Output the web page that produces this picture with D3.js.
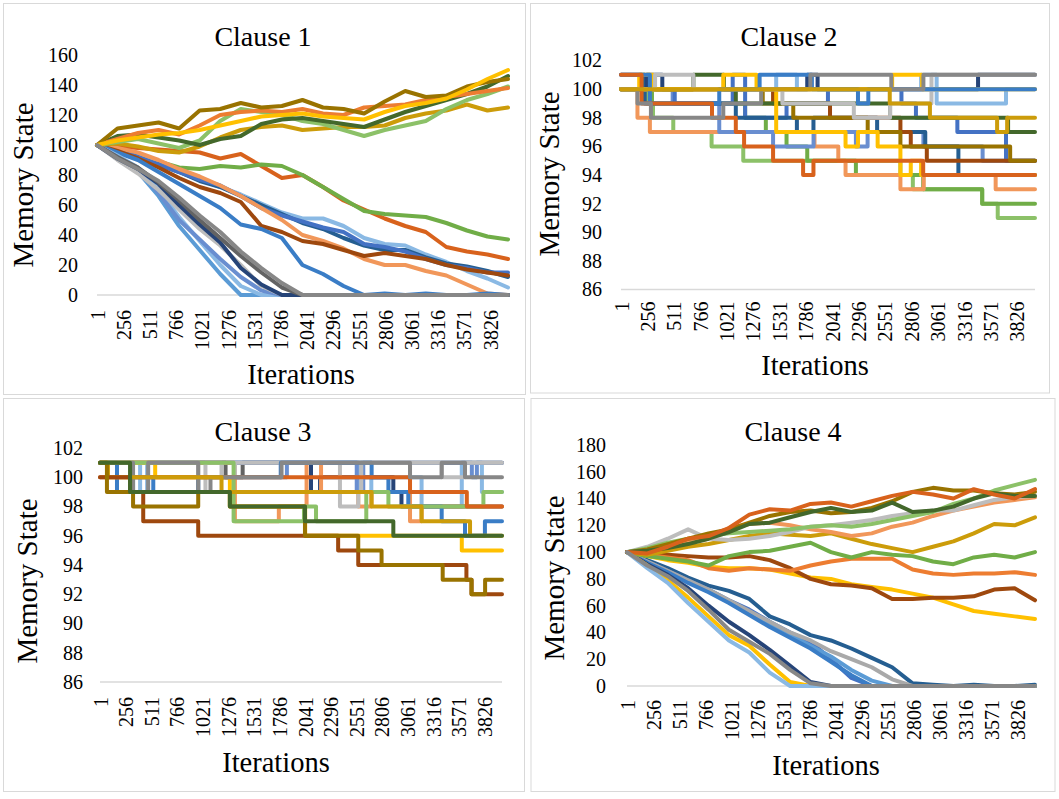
<!DOCTYPE html>
<html><head><meta charset="utf-8">
<script src="https://cdn.jsdelivr.net/npm/d3@7"></script>
<style>
html,body{margin:0;padding:0;background:#fff;}
svg text{font-family:"Liberation Serif","Times New Roman",serif;}
</style></head><body>
<svg id="chart" width="1059" height="799"></svg>
<script>
// ---------------- DATA ----------------
const tickIters  = [1,256,511,766,1021,1276,1531,1786,2041,2296,2551,2806,3061,3316,3571,3826];
const tickLabels = ["1","256","511","766","1021","1276","1531","1786","2041","2296","2551","2806","3061","3316","3571","3826"];
const iterSamples = [1,200,400,600,800,1000,1200,1400,1600,1800,2000,2200,2400,2600,2800,3000,3200,3400,3600,3800,4000];
const lastIter = 4000;
const panelTitles = ["Clause 1","Clause 2","Clause 3","Clause 4"];
const yTitle = "Memory State";
const xTitle = "Iterations";
const ticksWalk1 = [0,20,40,60,80,100,120,140,160];
const ticksStep  = [86,88,90,92,94,96,98,100,102];
const ticksWalk4 = [0,20,40,60,80,100,120,140,160,180];

// Clause 1 (values at iterSamples)
const c1_orangeRed   = [100,99,98,97,96,95,91,94,86,78,80,72,63,57,51,46,42,32,29,27,24];
const c1_green       = [100,96,93,89,85,84,86,85,87,86,80,72,64,56,54,53,52,48,43,39,37];
const c1_lightSky    = [100,97,93,89,83,77,72,67,61,55,51,51,46,38,34,33,27,22,16,11,5];
const c1_steelBlue   = [100,96,91,87,82,76,72,66,60,54,48,44,38,33,30,30,25,21,19,16,12];
const c1_royalBlue   = [100,97,92,87,82,77,73,66,58,53,49,45,42,34,32,29,24,20,18,15,15];
const c1_lightOrange = [100,98,95,90,84,79,73,66,58,50,40,36,31,24,20,20,16,13,7,1,0];
const c1_brown       = [100,96,91,85,78,72,68,62,46,42,36,34,30,26,28,26,24,20,17,15,13];
const c1_midBlue     = [100,95,90,82,74,66,58,47,44,38,20,14,6,0,1,0,1,0,0,1,0];
const c1_fastSky     = [100,92,82,66,46,30,14,0,0,0,0,0,0,0,0,0,0,0,0,0,0];
const c1_fastSky2    = [100,93,85,70,52,36,20,6,0,0,0,0,0,0,0,0,0,0,0,0,0];
const c1_fastCorn    = [100,92,83,68,50,37,24,12,3,0,0,0,0,0,0,0,0,0,0,0,0];
const c1_fastPale    = [100,90,81,70,57,44,33,20,6,0,0,0,0,0,0,0,0,0,0,0,0];
const c1_fastNavy    = [100,91,84,74,60,47,35,18,7,0,0,0,0,0,0,0,0,0,0,0,0];
const c1_fastDark    = [100,92,85,75,63,50,38,26,15,5,0,0,0,0,0,0,0,0,0,0,0];
const c1_gold        = [100,101,99,96,95,99,105,110,112,113,110,111,112,112,113,118,121,123,127,123,125];
const c1_lightGreen  = [100,102,104,101,98,103,116,124,122,120,116,114,110,106,110,113,116,124,130,134,139];
const c1_darkGreen   = [100,106,107,105,103,100,104,106,114,117,118,116,114,112,117,122,126,130,134,139,146];
const c1_orange      = [100,104,108,110,107,113,120,122,123,122,124,121,120,125,126,127,130,132,134,136,138];
const c1_darkGold    = [100,111,113,115,111,123,124,128,125,126,130,125,124,121,129,136,132,133,139,142,144];
const c1_yellow      = [100,103,105,107,108,110,113,116,119,120,121,119,118,117,122,126,128,131,137,144,150];
const c1_baseGray    = [100,91,84,76,65,53,42,29,18,8,0,0,0,0,0,0,0,0,0,0,0];

// Clause 4 (values at iterSamples)
const c4_steelBlue   = [100,94,88,81,75,71,65,52,46,38,34,28,21,14,2,1,0,1,0,0,1];
const c4_royalBlue   = [100,93,86,79,72,64,57,48,40,33,20,6,0,0,0,0,0,0,0,0,0];
const c4_skyBlue     = [100,92,85,78,71,63,55,46,38,30,22,12,4,0,0,0,0,0,0,0,0];
const c4_grayMid     = [100,93,86,79,72,64,56,48,40,34,26,20,14,5,0,0,0,0,0,0,0];
const c4_midBlue     = [100,92,85,77,70,62,53,44,36,28,18,8,0,0,0,0,0,0,0,0,0];
const c4_navy        = [100,91,83,73,60,48,38,27,15,3,0,0,0,0,0,0,0,0,0,0,0];
const c4_yellow2     = [100,90,79,66,52,38,30,16,3,0,0,0,0,0,0,0,0,0,0,0,0];
const c4_sky2        = [100,88,77,62,48,34,25,10,0,0,0,0,0,0,0,0,0,0,0,0,0];
const c4_baseGray    = [100,90,82,71,57,42,33,24,12,2,0,0,0,0,0,0,0,0,0,0,0];
const c4_yellow      = [100,97,94,92,89,88,88,87,84,81,80,76,74,72,69,66,61,56,54,52,50];
const c4_brown       = [100,99,98,97,96,96,97,94,88,80,76,75,73,65,65,66,66,67,72,73,64];
const c4_orange      = [100,98,96,94,88,86,88,87,86,90,93,95,95,95,87,84,83,84,84,85,83];
const c4_green       = [100,97,95,93,90,97,100,101,104,107,100,96,100,98,97,93,91,96,98,96,100];
const c4_gold        = [100,98,101,104,106,109,112,114,113,112,114,110,106,103,100,104,108,114,121,120,126];
const c4_lightOrange = [100,102,104,107,110,118,121,122,120,117,115,112,114,119,122,127,131,134,137,139,141];
const c4_lightGray   = [100,104,110,117,110,109,110,112,115,119,120,122,124,127,129,131,131,135,139,141,142];
const c4_lightGreen  = [100,103,107,110,112,114,115,116,117,119,120,119,121,124,127,130,136,140,146,150,154];
const c4_darkGold    = [100,102,106,110,114,117,122,127,130,131,129,130,133,138,145,148,146,146,144,143,145];
const c4_darkGreen   = [100,101,103,106,110,115,121,122,126,130,133,130,131,137,130,131,134,140,144,142,142];
const c4_orangeRed   = [100,99,104,110,112,118,128,132,131,136,137,134,138,142,145,143,140,147,143,140,147];

// Clause 2 (step changes: [iteration, state])
const c2_lightGreen  = [[1,100],[250,99],[310,98],[506,97],[876,96],[1182,95],[2700,94],[2820,93],[3490,92],[3640,91]];
const c2_green       = [[1,100],[300,99],[1200,98],[1400,97],[1600,96],[1800,95],[2270,94],[2920,93],[3490,92]];
const c2_lightOrange = [[1,100],[160,98],[280,97],[1870,96],[2100,95],[2170,94],[2700,93],[2925,94],[3620,93]];
const c2_cornflower  = [[1,100],[500,99],[950,97],[1470,96],[1861,97],[2270,96],[2383,97],[2922,96],[3494,95]];
const c2_royalBlue   = [[1,100],[520,99],[1080,101],[1200,98],[1600,99],[2000,100],[2710,99],[2850,98],[3250,97],[3720,95]];
const c2_steelBlue   = [[1,101],[230,99],[1110,98],[1700,97],[1860,98],[2475,97],[2940,96],[3260,94]];
const c2_navy        = [[1,100],[250,101],[400,100],[1800,101],[1900,100],[3450,101]];
const c2_lightSky    = [[1,100],[1500,101],[1700,100],[2900,101],[3050,99],[3720,100]];
const c2_brown       = [[1,100],[1470,99],[2020,98],[2700,97],[2800,96],[2955,95]];
const c2_darkGold    = [[1,100],[1370,99],[1665,98],[2384,97],[2700,96],[3760,95]];
const c2_darkGreen   = [[1,100],[700,101],[995,100],[1110,99],[2600,98],[3740,97]];
const c2_lightYellow = [[1,100],[1500,97],[2170,96],[2290,97],[2480,96],[2700,94],[2800,95],[2900,94]];
const c2_yellow      = [[1,100],[177,101],[312,100],[989,101],[1310,100],[2620,101],[2910,100]];
const c2_lightGray   = [[1,100],[330,101],[700,100],[1560,99],[2250,98],[2600,99],[3000,101]];
const c2_midBlue     = [[1,101],[280,99],[950,100],[1340,101],[1845,100],[2290,99],[2390,100]];
const c2_orangeRed   = [[1,101],[200,99],[880,98],[1110,97],[1190,96],[1470,95],[1760,94],[1860,95],[2920,94]];
const c2_gray        = [[1,100],[160,99],[290,98],[989,99],[1355,100],[1830,101],[2612,100],[2922,101]];
const c2_gold        = [[1,100],[2597,99],[2985,98],[3634,97],[3731,98]];

// Clause 3 (step changes: [iteration, state])
const c3_lightSky    = [[1,101],[400,99],[470,101],[2570,99],[2700,100],[3200,98],[3600,101],[3800,99]];
const c3_navy        = [[1,101],[2100,99],[2190,100],[2919,99],[3000,98]];
const c3_darkGray    = [[1,101],[1250,100],[1420,101]];
const c3_royalBlue   = [[1,101],[1800,100],[1860,101],[2555,99],[2620,101],[3700,100],[3750,101]];
const c3_lightOrange = [[1,101],[1343,97],[1780,98],[2056,101],[2200,99],[2570,98],[2700,99],[3085,97],[3200,98]];
const c3_lightGray   = [[1,101],[978,99],[1050,101],[1210,100],[1343,101],[2388,98],[2570,99],[2600,101],[3400,100],[3632,101]];
const c3_midBlue     = [[1,101],[170,99],[330,100],[531,99],[978,100],[1800,101],[2703,100],[2870,99],[3068,98],[3400,97],[3632,96],[3830,97]];
const c3_yellow      = [[1,101],[550,100],[1293,98],[2042,96],[3600,95]];
const c3_lightGreen  = [[1,101],[1330,97],[2030,98],[2150,97],[2650,99],[2870,98],[3815,99]];
const c3_orangeRed   = [[1,100],[3085,99],[3650,98]];
const c3_gray        = [[1,101],[330,99],[480,101],[978,99],[1100,100],[1807,101],[3085,100],[3400,101],[3632,100]];
const c3_gold        = [[1,101],[80,100],[1210,99],[2703,98],[3200,97],[3682,96]];
const c3_brown       = [[1,100],[300,99],[431,97],[978,96],[2370,95],[2570,94],[3646,93],[3697,92]];
const c3_darkGold    = [[1,101],[70,99],[330,98],[978,99],[1293,98],[2040,96],[2570,95],[2802,94],[3410,93],[3697,92],[3832,93]];
const c3_darkGreen   = [[1,101],[300,99],[1293,98],[2040,97],[2919,96]];

// ---------------- STYLE ----------------
const COL = {
  royalBlue:"#4472C4", orange:"#ED7D31", lightGray:"#A9A9A9", yellow:"#FFC000", skyBlue:"#5B9BD5", green:"#70AD47",
  navy:"#264478", brown:"#9E480E", darkGray:"#636363", darkGold:"#997300", steelBlue:"#255E91", darkGreen:"#43682B",
  cornflower:"#698ED0", lightOrange:"#F1975A", paleGray:"#BDBDBD", lightYellow:"#FFCD33", lightSky:"#8AB9E4", lightGreen:"#8CC168",
  midBlue:"#3A7DC6", orangeRed:"#D8621C", gray:"#878787", gold:"#CC9C0A"
};
const FONT = '"Liberation Serif","Times New Roman",serif';

const panel1Series = [
  [c1_orangeRed,COL.orangeRed],[c1_green,COL.green],[c1_lightSky,COL.lightSky],[c1_steelBlue,COL.steelBlue],
  [c1_royalBlue,COL.royalBlue],[c1_lightOrange,COL.lightOrange],[c1_brown,COL.brown],[c1_midBlue,COL.midBlue],
  [c1_fastSky,COL.skyBlue],[c1_fastSky2,COL.lightSky],[c1_fastCorn,COL.cornflower],[c1_fastPale,COL.paleGray],
  [c1_fastNavy,COL.navy],[c1_fastDark,COL.darkGray],
  [c1_gold,COL.gold],[c1_lightGreen,COL.lightGreen],[c1_darkGreen,COL.darkGreen],[c1_orange,COL.orange],
  [c1_darkGold,COL.darkGold],[c1_yellow,COL.yellow],[c1_baseGray,COL.gray]
];
const panel4Series = [
  [c4_steelBlue,COL.steelBlue],[c4_royalBlue,COL.royalBlue],[c4_skyBlue,COL.skyBlue],[c4_grayMid,COL.lightGray],
  [c4_midBlue,COL.midBlue],[c4_navy,COL.navy],[c4_yellow2,COL.yellow],[c4_sky2,COL.lightSky],
  [c4_yellow,COL.yellow],[c4_brown,COL.brown],[c4_orange,COL.orange],[c4_green,COL.green],[c4_gold,COL.gold],
  [c4_lightOrange,COL.lightOrange],[c4_lightGray,COL.paleGray],[c4_lightGreen,COL.lightGreen],
  [c4_darkGold,COL.darkGold],[c4_darkGreen,COL.darkGreen],[c4_orangeRed,COL.orangeRed],[c4_baseGray,COL.gray]
];
const panel2Series = [
  [c2_lightGreen,COL.lightGreen],[c2_green,COL.green],[c2_lightOrange,COL.lightOrange],[c2_cornflower,COL.cornflower],
  [c2_royalBlue,COL.royalBlue],[c2_steelBlue,COL.steelBlue],[c2_navy,COL.navy],[c2_lightSky,COL.lightSky],
  [c2_brown,COL.brown],[c2_darkGold,COL.darkGold],[c2_darkGreen,COL.darkGreen],[c2_lightYellow,COL.yellow],
  [c2_yellow,COL.yellow],[c2_lightGray,COL.paleGray],[c2_midBlue,COL.midBlue],[c2_orangeRed,COL.orangeRed],
  [c2_gray,COL.gray],[c2_gold,COL.gold]
];
const panel3Series = [
  [c3_lightSky,COL.lightSky],[c3_navy,COL.navy],[c3_darkGray,COL.darkGray],[c3_royalBlue,COL.cornflower],
  [c3_lightOrange,COL.lightOrange],[c3_lightGray,COL.paleGray],[c3_midBlue,COL.midBlue],[c3_yellow,COL.yellow],
  [c3_lightGreen,COL.lightGreen],[c3_orangeRed,COL.orangeRed],[c3_gray,COL.gray],
  [c3_gold,COL.gold],[c3_brown,COL.brown],[c3_darkGold,COL.darkGold],[c3_darkGreen,COL.darkGreen]
];

const panels = [
  {title:panelTitles[0], box:[3.5,3.5,525.5,394.5], x0:97, x1:508, yDom:[0,160], yB:295, yT:55, yTicks:ticksWalk1,
   yPad:19, xGap:15, tPos:[263,46], yTPos:[33,185], xTPos:[301,384], kind:"walk", series:panel1Series},
  {title:panelTitles[1], box:[530.5,3.5,1049.5,393], x0:621, x1:1035, yDom:[86,102], yB:289.5, yT:60.5, yTicks:ticksStep,
   yPad:19, xGap:12, tPos:[789,46], yTPos:[559,174], xTPos:[815,375], kind:"step", series:panel2Series},
  {title:panelTitles[2], box:[3.5,398.5,524.5,791.5], x0:100, x1:502, yDom:[86,102], yB:682, yT:448, yTicks:ticksStep,
   yPad:17, xGap:15, tPos:[263,441], yTPos:[37,581], xTPos:[276,772], kind:"step", series:panel3Series},
  {title:panelTitles[3], box:[531,398.5,1055,791.5], x0:627, x1:1035, yDom:[0,180], yB:686, yT:445, yTicks:ticksWalk4,
   yPad:21, xGap:14, tPos:[793,441], yTPos:[564,578], xTPos:[826,775], kind:"walk", series:panel4Series}
];

// ---------------- DRAW ----------------
const svg = d3.select("#chart");
svg.append("rect").attr("width",1059).attr("height",799).attr("fill","#fff");

panels.forEach(p => {
  const g = svg.append("g");
  g.append("rect").attr("x",p.box[0]).attr("y",p.box[1])
    .attr("width",p.box[2]-p.box[0]).attr("height",p.box[3]-p.box[1])
    .attr("fill","#fff").attr("stroke","#d9d9d9").attr("stroke-width",1);

  const x = d3.scaleLinear().domain([1,lastIter]).range([p.x0,p.x1]);
  const y = d3.scaleLinear().domain(p.yDom).range([p.yB,p.yT]);

  g.append("line").attr("x1",p.x0).attr("x2",p.x1).attr("y1",y(p.yDom[0])).attr("y2",y(p.yDom[0]))
    .attr("stroke","#d9d9d9").attr("stroke-width",1.5);

  const yg = g.append("g").attr("transform",`translate(${p.x0},0)`)
    .call(d3.axisLeft(y).tickValues(p.yTicks).tickSize(0).tickPadding(p.yPad).tickFormat(d3.format("d")));
  yg.select(".domain").remove();
  yg.selectAll("text").attr("font-size",20).attr("font-family",FONT).attr("fill","#000");

  const xg = g.append("g").attr("transform",`translate(0,${p.yB})`)
    .call(d3.axisBottom(x).tickValues(tickIters).tickSize(0).tickFormat((d,i)=>tickLabels[i]));
  xg.select(".domain").remove();
  xg.selectAll("text").attr("x",0).attr("y",0).attr("dy","0.35em")
    .attr("transform",`translate(0,${p.xGap}) rotate(-90)`)
    .attr("text-anchor","end").attr("font-size",20).attr("font-family",FONT).attr("fill","#000");

  const lineWalk = d3.line().x(d=>x(d[0])).y(d=>y(d[1])).curve(d3.curveLinear);
  const lineStep = d3.line().x(d=>x(d[0])).y(d=>y(d[1])).curve(d3.curveStepAfter);
  const lg = g.append("g");
  p.series.forEach(([vals,color]) => {
    let pts, gen;
    if (p.kind === "walk") {
      pts = iterSamples.map((t,i)=>[t, vals[i]]);
      gen = lineWalk;
    } else {
      pts = vals.concat([[lastIter, vals[vals.length-1][1]]]);
      gen = lineStep;
    }
    lg.append("path").attr("d",gen(pts)).attr("fill","none").attr("stroke",color)
      .attr("stroke-width",4).attr("stroke-linejoin","round").attr("stroke-linecap","round");
  });

  g.append("text").attr("x",p.tPos[0]).attr("y",p.tPos[1]).attr("text-anchor","middle")
    .attr("font-size",28).attr("font-family",FONT).attr("fill","#000").text(p.title);
  g.append("text").attr("transform",`translate(${p.yTPos[0]},${p.yTPos[1]}) rotate(-90)`)
    .attr("text-anchor","middle").attr("font-size",29).attr("font-family",FONT).attr("fill","#000").text(yTitle);
  g.append("text").attr("x",p.xTPos[0]).attr("y",p.xTPos[1]).attr("text-anchor","middle")
    .attr("font-size",28.5).attr("font-family",FONT).attr("fill","#000").text(xTitle);
});
</script></body></html>
